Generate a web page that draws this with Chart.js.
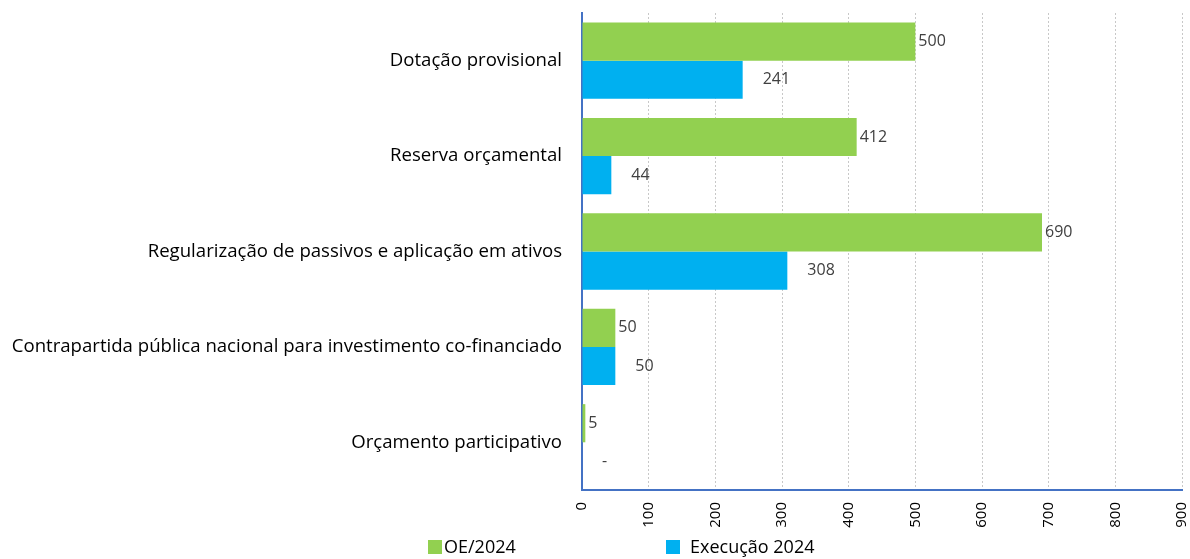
<!DOCTYPE html>
<html>
<head>
<meta charset="utf-8">
<script src="https://cdn.jsdelivr.net/npm/chart.js@4/dist/chart.umd.min.js"></script>
<style>
    body { margin: 0; background: #fff; }
    #wrap { position: relative; width: 1190px; height: 559px; }
    .legend { position: absolute; top: 534px; font-family: "Open Sans", sans-serif; font-size: 18px; color: #000; white-space: nowrap; }
    .legend span.box { display: inline-block; width: 14px; height: 14px; vertical-align: -1px; }
</style>
</head>
<body>
<div id="wrap">
    <canvas id="chart" width="1190" height="559"></canvas>
    <div class="legend" style="left: 428px;"><span class="box" style="background:#92D050;margin-right:2px"></span>OE/2024</div>
    <div class="legend" style="left: 666px;"><span class="box" style="background:#00B0F0;margin-right:10px"></span>Execução 2024</div>
</div>
<script>
const categories = [
    'Dotação provisional',
    'Reserva orçamental',
    'Regularização de passivos e aplicação em ativos',
    'Contrapartida pública nacional para investimento co-financiado',
    'Orçamento participativo'
];
const oe2024 = [500, 412, 690, 50, 5];
const execucao2024 = [241, 44, 308, 50, 0];
const xTicks = [0, 100, 200, 300, 400, 500, 600, 700, 800, 900];

// value labels next to each bar
const valueLabels = {
    id: 'valueLabels',
    afterDatasetsDraw(chart) {
        const ctx = chart.ctx;
        ctx.save();
        ctx.font = '16px "Open Sans", sans-serif';
        ctx.fillStyle = '#404040';
        ctx.textBaseline = 'middle';
        ctx.textAlign = 'left';
        chart.data.datasets.forEach((ds, i) => {
            const meta = chart.getDatasetMeta(i);
            const offset = i === 0 ? 3 : 20;
            meta.data.forEach((bar, j) => {
                const v = ds.data[j];
                const txt = v === 0 ? '-' : String(v);
                ctx.fillText(txt, bar.x + offset, bar.y);
            });
        });
        ctx.restore();
    }
};

new Chart(document.getElementById('chart').getContext('2d'), {
    type: 'bar',
    data: {
        labels: categories,
        datasets: [{
            label: 'OE/2024',
            data: oe2024,
            backgroundColor: '#92D050',
            categoryPercentage: 0.8,
            barPercentage: 1.0
        }, {
            label: 'Execução 2024',
            data: execucao2024,
            backgroundColor: '#00B0F0',
            categoryPercentage: 0.8,
            barPercentage: 1.0
        }]
    },
    options: {
        indexAxis: 'y',
        responsive: false,
        animation: false,
        layout: {
            padding: { top: 13, right: 8, left: 0, bottom: 0 }
        },
        plugins: {
            legend: { display: false },
            tooltip: { enabled: false }
        },
        scales: {
            x: {
                min: 0,
                max: 900,
                afterBuildTicks(scale) {
                    scale.ticks = xTicks.map(v => ({ value: v }));
                },
                afterFit(scale) {
                    scale.height = 69;
                    scale.paddingLeft = 0;
                    scale.paddingRight = 0;
                },
                grid: {
                    color: '#c8c8c8',
                    drawTicks: false
                },
                border: {
                    display: true,
                    color: '#4472C4',
                    width: 2,
                    dash: [2, 2]
                },
                ticks: {
                    minRotation: 90,
                    maxRotation: 90,
                    padding: 12,
                    color: '#000',
                    font: { family: 'Open Sans', size: 15 }
                }
            },
            y: {
                afterFit(scale) {
                    scale.width = 582;
                    scale.paddingTop = 0;
                    scale.paddingBottom = 0;
                },
                grid: { display: false },
                border: {
                    display: true,
                    color: '#4472C4',
                    width: 2
                },
                ticks: {
                    padding: 12,
                    color: '#000',
                    font: { family: 'Open Sans', size: 18.6 }
                }
            }
        }
    },
    plugins: [valueLabels]
});
</script>
</body>
</html>
